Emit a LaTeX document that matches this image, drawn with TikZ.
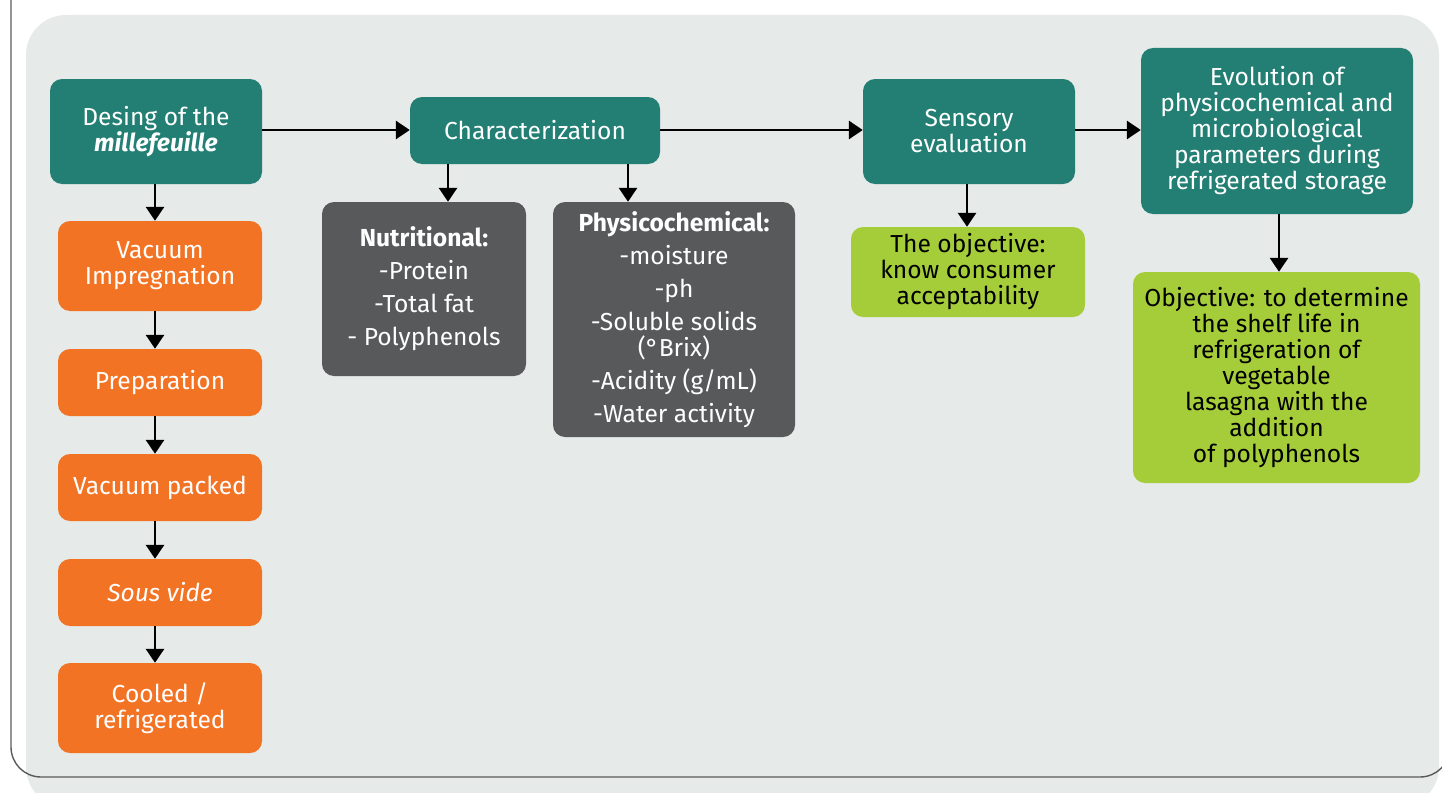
\documentclass[tikz,border=0pt]{standalone}
\usepackage{fontspec}
\setmainfont{Fira Sans}
\usetikzlibrary{arrows.meta}
\definecolor{teal}{HTML}{237F73}
\definecolor{orng}{HTML}{F37324}
\definecolor{dgray}{HTML}{58595B}
\definecolor{lgreen}{HTML}{A5CD39}
\definecolor{panel}{HTML}{E6EAE9}
\definecolor{framec}{HTML}{5A5A5A}
\begin{document}
\begin{tikzpicture}[x=1pt,y=-1pt,
  box/.style={rounded corners=12pt, align=center, inner sep=0pt,
    font=\fontsize{24.6}{26}\selectfont, text=white},
  tealbox/.style={box, fill=teal},
  orbox/.style={box, fill=orng},
  graybox/.style={box, fill=dgray},
  grbox/.style={box, fill=lgreen, text=black},
  arr/.style={line width=2.9pt, -{Triangle[length=14pt,width=18pt]}}]
\useasboundingbox (0,0) rectangle (1442,792);
\begin{scope}
\clip (0,0) rectangle (1442,792);
\fill[panel, rounded corners=40pt] (26,15) rectangle (1439,807);
\draw[framec, line width=1.4pt, rounded corners=30pt] (11,-10) -- (11,777) -- (1450,777) -- (1450,-10);
\end{scope}

\node[tealbox, minimum width=212pt, minimum height=105pt] (des) at (156,131.5)
  {Desing of the\\\textbf{\textit{millefeuille}}};
\node[orbox, minimum width=204pt, minimum height=90pt] (vi) at (160,266)
  {Vacuum\\Impregnation};
\node[orbox, minimum width=204pt, minimum height=67pt] (prep) at (160,382.5)
  {Preparation};
\node[orbox, minimum width=204pt, minimum height=67pt] (vp) at (160,487.5)
  {Vacuum packed};
\node[orbox, minimum width=204pt, minimum height=67pt] (sv) at (160,592.5)
  {\textit{Sous vide}};
\node[orbox, minimum width=204pt, minimum height=90pt] (cool) at (160,708)
  {Cooled /\\refrigerated};

\node[tealbox, minimum width=250pt, minimum height=67pt] (char) at (535,130.5)
  {Characterization};
\node[graybox, minimum width=204pt, minimum height=174pt] (nut) at (424,289)
  {\textbf{Nutritional:}\\[7pt]-Protein\\[7pt]-Total fat\\[7pt]- Polyphenols};
\node[graybox, minimum width=242pt, minimum height=235pt] (phys) at (674,319.5)
  {\textbf{Physicochemical:}\\[7pt]-moisture\\[7pt]-ph\\[7pt]-Soluble solids\\(°Brix)\\[7pt]-Acidity (g/mL)\\[7pt]-Water activity};

\node[tealbox, minimum width=212pt, minimum height=105pt] (sens) at (969,131.5)
  {Sensory\\evaluation};
\node[grbox, minimum width=234pt, minimum height=90pt] (obj1) at (968,272)
  {The objective:\\know consumer\\acceptability};

\node[tealbox, minimum width=272pt, minimum height=166pt] (evo) at (1277,131)
  {Evolution of\\physicochemical and\\microbiological\\parameters during\\refrigerated storage};
\node[grbox, minimum width=287pt, minimum height=211pt] (obj2) at (1276.5,377.5)
  {Objective: to determine\\the shelf life in\\refrigeration of\\vegetable\\lasagna with the\\addition\\of polyphenols};

\draw[arr] (des.south -| 155,0) -- (vi.north -| 155,0);
\draw[arr] (vi.south -| 155,0) -- (prep.north -| 155,0);
\draw[arr] (prep.south -| 155,0) -- (vp.north -| 155,0);
\draw[arr] (vp.south -| 155,0) -- (sv.north -| 155,0);
\draw[arr] (sv.south -| 155,0) -- (cool.north -| 155,0);

\draw[arr] (des.east |- 0,130) -- (char.west |- 0,130);
\draw[arr] (char.east |- 0,130) -- (sens.west |- 0,130);
\draw[arr] (sens.east |- 0,130) -- (evo.west |- 0,130);

\draw[arr] ([xshift=-87pt]char.south) -- ([xshift=-87pt]char.south |- nut.north);
\draw[arr] ([xshift=93pt]char.south) -- ([xshift=93pt]char.south |- phys.north);
\draw[arr] ([xshift=-2pt]sens.south) -- ([xshift=-2pt]sens.south |- obj1.north);
\draw[arr] ([xshift=2pt]evo.south) -- ([xshift=2pt]evo.south |- obj2.north);
\end{tikzpicture}
\end{document}
